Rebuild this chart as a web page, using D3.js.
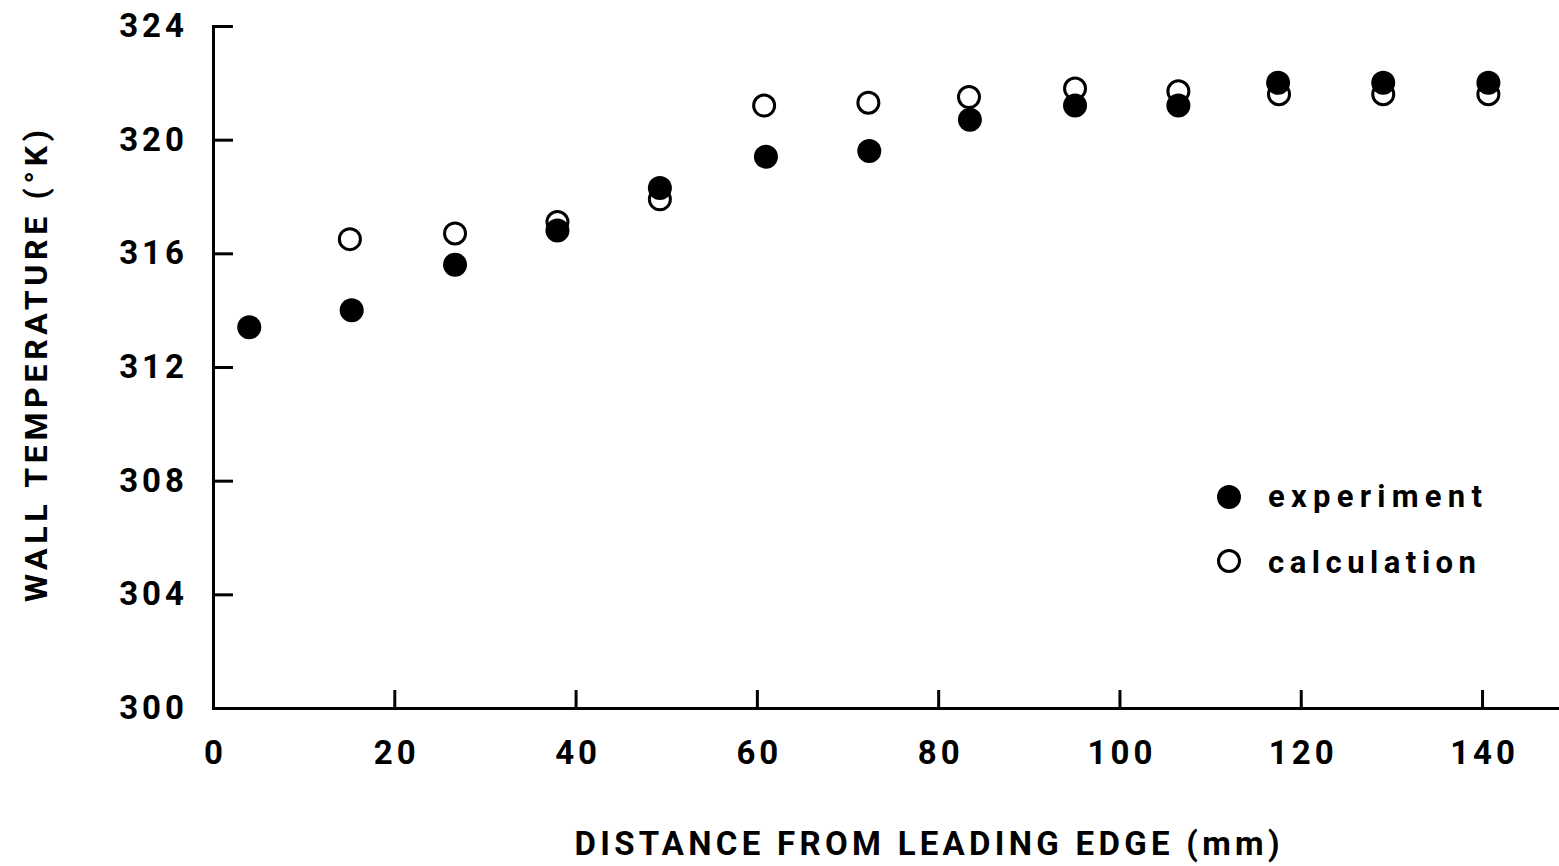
<!DOCTYPE html>
<html>
<head>
<meta charset="utf-8">
<script src="https://cdn.jsdelivr.net/npm/d3@7"></script>
<style>
  html, body { margin: 0; padding: 0; background: #fff; }
  svg { display: block; }
  text { font-family: Roboto, "Liberation Sans", sans-serif; font-weight: 700; fill: #000; }
</style>
</head>
<body>
<svg id="chart" width="1559" height="866"></svg>
<script>
// ---- data ----
const expX  = [4.0, 15.3, 26.7, 38.0, 49.3, 61.0, 72.4, 83.5, 95.1, 106.5, 117.5, 129.1, 140.7];
const expY  = [313.4, 314.0, 315.6, 316.8, 318.3, 319.4, 319.6, 320.7, 321.2, 321.2, 322.0, 322.0, 322.0];
const calcX = [15.1, 26.7, 38.0, 49.3, 60.8, 72.3, 83.4, 95.1, 106.5, 117.6, 129.1, 140.7];
const calcY = [316.5, 316.7, 317.1, 317.9, 321.2, 321.3, 321.5, 321.8, 321.7, 321.6, 321.6, 321.6];
const xTicks = [0, 20, 40, 60, 80, 100, 120, 140];
const yTicks = [300, 304, 308, 312, 316, 320, 324];
const xTitle = "DISTANCE FROM LEADING EDGE (mm)";
const yTitle = "WALL TEMPERATURE (°K)";
const legendLabels = ["experiment", "calculation"];

const svg = d3.select("#chart");
const x = d3.scaleLinear().domain([0, 148.6]).range([213, 1560]);
const y = d3.scaleLinear().domain([300, 324]).range([708, 26]);

// axes
const xAxis = d3.axisBottom(x).tickValues(xTicks).tickSizeInner(-18).tickSizeOuter(0).tickPadding(33);
const yAxis = d3.axisLeft(y).tickValues(yTicks).tickSizeInner(-20).tickSizeOuter(0).tickPadding(25);

const gx = svg.append("g").attr("transform", `translate(0,${y(300)})`).call(xAxis);
const gy = svg.append("g").attr("transform", `translate(${x(0)},0)`).call(yAxis);

[gx, gy].forEach(g => {
  g.select(".domain").attr("stroke", "#000").attr("stroke-width", 3).attr("stroke-linecap", "square");
  g.selectAll(".tick line").attr("stroke", "#000").attr("stroke-width", 3);
  g.selectAll(".tick text").style("font-size", "33px").style("letter-spacing", "4px")
    .attr("font-family", null).attr("fill", "#000");
});
gx.selectAll(".tick text").attr("dx", "2px");

// axis titles
svg.append("text")
  .attr("x", 927).attr("y", 855)
  .attr("text-anchor", "middle")
  .attr("textLength", 705).attr("lengthAdjust", "spacing")
  .style("font-size", "33px")
  .text(xTitle);

svg.append("text")
  .attr("transform", `translate(47,${366}) rotate(-90)`)
  .attr("text-anchor", "middle")
  .attr("textLength", 472).attr("lengthAdjust", "spacing")
  .style("font-size", "32px")
  .text(yTitle);

// markers
svg.append("g").selectAll("circle")
  .data(expX.map((v, i) => [v, expY[i]]))
  .join("circle")
  .attr("cx", d => x(d[0])).attr("cy", d => y(d[1]))
  .attr("r", 12).attr("fill", "#000");

svg.append("g").selectAll("circle")
  .data(calcX.map((v, i) => [v, calcY[i]]))
  .join("circle")
  .attr("cx", d => x(d[0])).attr("cy", d => y(d[1]))
  .attr("r", 10.5).attr("fill", "none").attr("stroke", "#000").attr("stroke-width", 3);

// legend
const leg = svg.append("g");
leg.append("circle").attr("cx", 1229).attr("cy", 497).attr("r", 12).attr("fill", "#000");
leg.append("circle").attr("cx", 1229).attr("cy", 561).attr("r", 10.5)
  .attr("fill", "none").attr("stroke", "#000").attr("stroke-width", 3);
leg.append("text").attr("x", 1268).attr("y", 507)
  .attr("textLength", 214).attr("lengthAdjust", "spacing")
  .style("font-size", "31px").text(legendLabels[0]);
leg.append("text").attr("x", 1268).attr("y", 573)
  .attr("textLength", 208).attr("lengthAdjust", "spacing")
  .style("font-size", "31px").text(legendLabels[1]);
</script>
</body>
</html>
